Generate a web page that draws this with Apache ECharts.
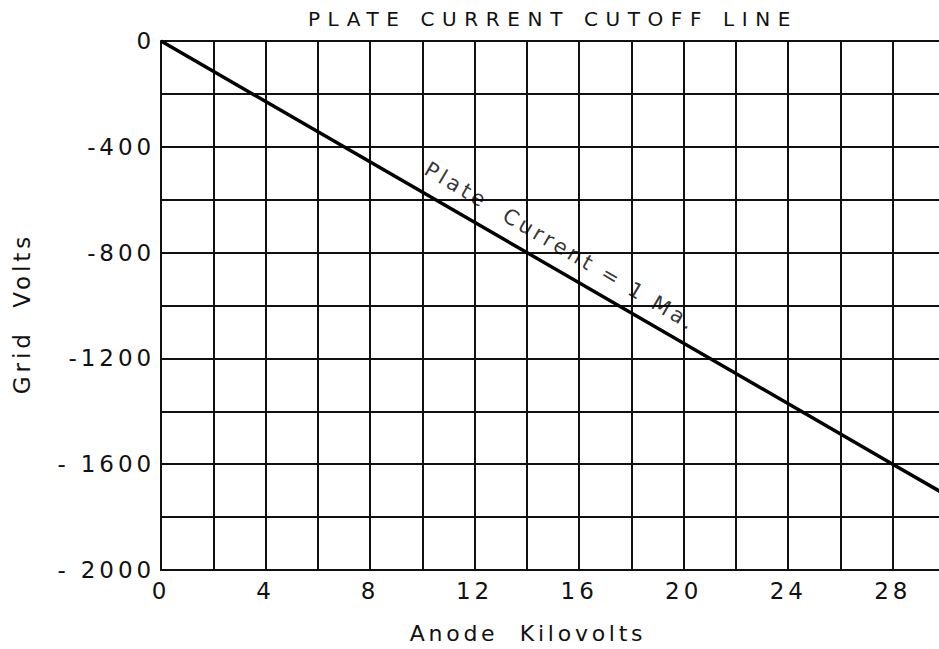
<!DOCTYPE html>
<html><head><meta charset="utf-8">
<script src="https://cdn.jsdelivr.net/npm/echarts@6/dist/echarts.min.js"></script>
<style>html,body{margin:0;padding:0;background:#fff}#c{width:939px;height:649px}</style>
</head><body><div id="c"></div>
<script>
// Data
const titleText = 'PLATE CURRENT CUTOFF LINE';
const xName = 'Anode  Kilovolts';
const yName = 'Grid  Volts';
const anodeKV = [0, 14, 28, 30];
const gridVolts = [0, -800, -1600, -1714];
const xTickValues = [0, 4, 8, 12, 16, 20, 24, 28];
const yTickLabels = {'0':'0','-400':'-400','-800':'-800','-1200':'-1200','-1600':'- 1600','-2000':'- 2000'};
const annotationText = 'Plate  Current = 1 Ma.';
const annotationAt = [15.3, -776];

const font = 'DejaVu Sans';
const dom = document.getElementById('c');
const chart = echarts.init(dom, null, {renderer: 'svg'});
chart.setOption({
  backgroundColor: '#fff',
  animation: false,
  graphic: [{
    type: 'text', x: 553, y: 19,
    style: {text: titleText, fontFamily: font, fontSize: 20, fill: '#111',
            align: 'center', verticalAlign: 'middle'}
  }],
  grid: {left: 161, right: -6, top: 41, bottom: 79, outerBoundsMode: 'none', containLabel: false},
  xAxis: {
    type: 'value', min: 0, max: 30, interval: 2,
    name: xName, nameLocation: 'middle', nameGap: 52,
    nameTextStyle: {fontFamily: font, fontSize: 22, color: '#111', padding: [0, 50, 0, 0]},
    axisLine: {show: true, onZero: false, lineStyle: {color: '#111', width: 2}},
    axisTick: {show: false},
    splitLine: {show: true, lineStyle: {color: '#111', width: 2}},
    axisLabel: {
      fontFamily: font, fontSize: 23, color: '#111', margin: 9,
      formatter: v => xTickValues.indexOf(v) >= 0 ? String(v) : ''
    }
  },
  yAxis: {
    type: 'value', min: -2000, max: 0, interval: 200,
    name: yName, nameLocation: 'middle', nameGap: 128, nameRotate: 90,
    nameTextStyle: {fontFamily: font, fontSize: 23, color: '#111', padding: [0, 16, 0, 0]},
    axisLine: {show: true, onZero: false, lineStyle: {color: '#111', width: 2}},
    axisTick: {show: false},
    splitLine: {show: true, lineStyle: {color: '#111', width: 2}},
    axisLabel: {
      fontFamily: font, fontSize: 23, color: '#111', margin: 6,
      formatter: v => yTickLabels[String(v)] !== undefined ? yTickLabels[String(v)] : ''
    }
  },
  series: [
    {
      type: 'line', data: anodeKV.map((x, i) => [x, gridVolts[i]]),
      showSymbol: false, lineStyle: {color: '#000', width: 3.5}, clip: true, silent: true
    },
    {
      type: 'scatter', data: [annotationAt], symbolSize: 0, silent: true,
      label: {
        show: true, formatter: annotationText, position: 'inside',
        rotate: -30.5, fontFamily: font, fontSize: 21, color: '#000'
      }
    }
  ]
});
function applySpacing() {
  dom.querySelectorAll('text').forEach(t => {
    t.style.letterSpacing = (t.textContent === titleText) ? '0.38em' : '0.17em';
  });
}
chart.on('finished', applySpacing);
applySpacing();
</script></body></html>
